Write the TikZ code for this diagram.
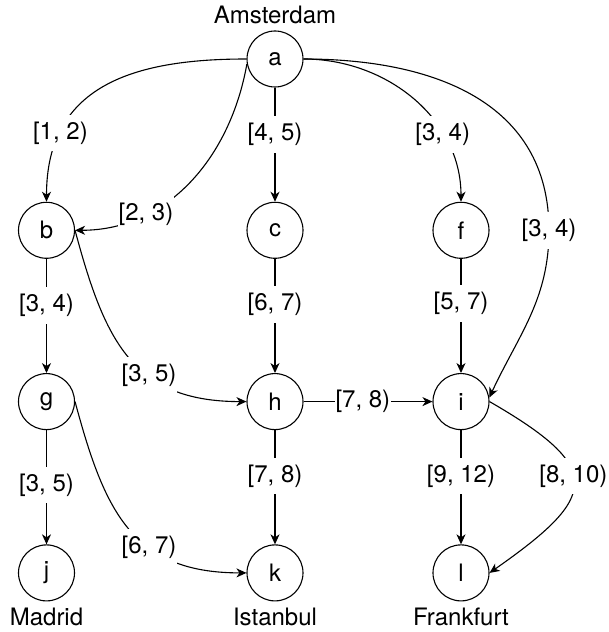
\documentclass[tikz,border=0pt]{standalone}
\usepackage{fontspec}
\setmainfont{TeX Gyre Heros}
\usetikzlibrary{arrows.meta, positioning}

\begin{document}
\begin{tikzpicture}[x=1pt, y=1pt,
                node distance=171.3pt and 228.5pt, on grid,
                every node/.style={font=\fontsize{24}{29}\selectfont},
                city/.style={draw, circle, line width=1.1pt, minimum size=56pt, inner sep=0pt},
                place/.style={inner sep=1pt, label distance=5pt},
                slot/.style={fill=white, inner xsep=1pt, inner ysep=7pt},
                flight/.style={line width=1.1pt, -{Stealth[length=10pt, width=9pt, inset=3pt]}}]

                \useasboundingbox (0,0) rectangle (609,632);

                % airports on a 3 x 4 grid
                \node[city, label={[place]above:Amsterdam}] (a) at (275,573) {a};
                \node[city, below=of a] (c) {c};
                \node[city, left=of c] (b) {b};
                \node[city, right=186pt of c] (f) {f};
                \node[city, below=of b] (g) {g};
                \node[city, below=of c] (h) {h};
                \node[city, below=of f] (i) {i};
                \node[city, below=of g, label={[place]below:Madrid}] (j) {j};
                \node[city, below=of h, label={[place]below:Istanbul}] (k) {k};
                \node[city, below=of i, label={[place]below:Frankfurt}] (l) {l};

                % flights out of a
                \draw[flight] (a.west) to[out=180, in=90, looseness=1.2]
                    node[slot, pos=0.76] {[1, 2)} (b.north);
                \draw[flight] (a.190) to[out=-100, in=0]
                    node[slot, pos=0.72] {[2, 3)} (b.east);
                \draw[flight] (a) -- node[slot, pos=0.41] {[4, 5)} (c);
                \draw[flight] (a.east) to[out=0, in=90]
                    node[slot, pos=0.7] {[3, 4)} (f.north);
                \draw[flight] (a.east) to[out=0, in=90, looseness=1.1] ([xshift=88pt]f.center)
                    node[slot] {[3, 4)} to[out=-90, in=65] (i.8);

                % middle rows
                \draw[flight] (b) -- node[slot, pos=0.41] {[3, 4)} (g);
                \draw[flight] (b.east) to[out=-75, in=180, looseness=1.2]
                    node[slot, pos=0.62] {[3, 5)} (h.west);
                \draw[flight] (c) -- node[slot, pos=0.4] {[6, 7)} (h);
                \draw[flight] (f) -- node[slot, pos=0.39] {[5, 7)} (i);
                \draw[flight] (h) -- node[slot, pos=0.46] {[7, 8)} (i);

                % into the bottom row
                \draw[flight] (g) -- node[slot, pos=0.48] {[3, 5)} (j);
                \draw[flight] (g.east) to[out=-75, in=180, looseness=1.2]
                    node[slot, pos=0.62] {[6, 7)} (k.west);
                \draw[flight] (h) -- node[slot, pos=0.4] {[7, 8)} (k);
                \draw[flight] (i) -- node[slot, pos=0.4] {[9, 12)} (l);
                \draw[flight] (i.east) to[out=-30, in=35, looseness=2]
                    node[slot, pos=0.45] {[8, 10)} (l.east);
            \end{tikzpicture}
\end{document}
